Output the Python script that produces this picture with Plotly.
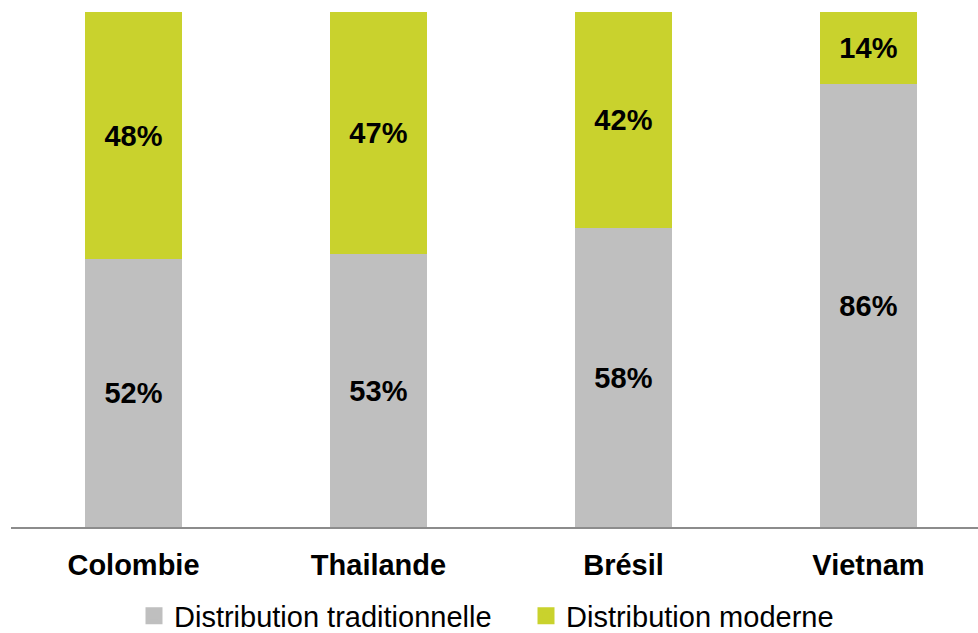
import plotly.graph_objects as go

categories = ["Colombie", "Thailande", "Brésil", "Vietnam"]
traditionnelle = [52, 53, 58, 86]
moderne = [48, 47, 42, 14]
series_names = ["Distribution traditionnelle", "Distribution moderne"]
colors = ["#BFBFBF", "#C9D22D"]

FONT = "Liberation Sans, Arial, sans-serif"

fig = go.Figure()
for vals, name, col in zip([traditionnelle, moderne], series_names, colors):
    fig.add_trace(go.Bar(
        x=categories, y=vals, name=name, showlegend=False,
        marker=dict(color=col, line=dict(width=0)),
        text=[f"{v}%" for v in vals], textposition="inside",
        insidetextanchor="middle",
        textfont=dict(family=FONT, size=29, color="black", weight="bold"),
        width=0.396,
    ))
# legend-only entries (bigger square swatches)
for name, col in zip(series_names, colors):
    fig.add_trace(go.Bar(
        x=[categories[0]], y=[None], name=name, showlegend=True,
        marker=dict(color=col, line=dict(width=5, color=col)),
        hoverinfo="skip",
    ))

fig.update_layout(
    barmode="stack",
    width=978, height=633,
    margin=dict(l=11, r=0, t=12, b=106, autoexpand=False),
    plot_bgcolor="white", paper_bgcolor="white",
    uniformtext=dict(mode="show", minsize=10),
    xaxis=dict(
        range=[-0.5, 3.447],
        showline=True, linecolor="#8C8C8C", linewidth=2,
        ticks="", showgrid=False,
        ticklabelstandoff=11,
        tickfont=dict(family=FONT, size=29, color="black", weight="bold"),
    ),
    yaxis=dict(range=[0, 100], visible=False, showgrid=False),
    legend=dict(
        orientation="h", xref="container", x=134 / 978, xanchor="left",
        yref="container", y=0.027, yanchor="middle",
        font=dict(family=FONT, size=29, color="black"),
        traceorder="normal", itemwidth=30,
        entrywidth=347, entrywidthmode="pixels",
    ),
    bargap=0.6,
)

fig.write_html("out.html")
